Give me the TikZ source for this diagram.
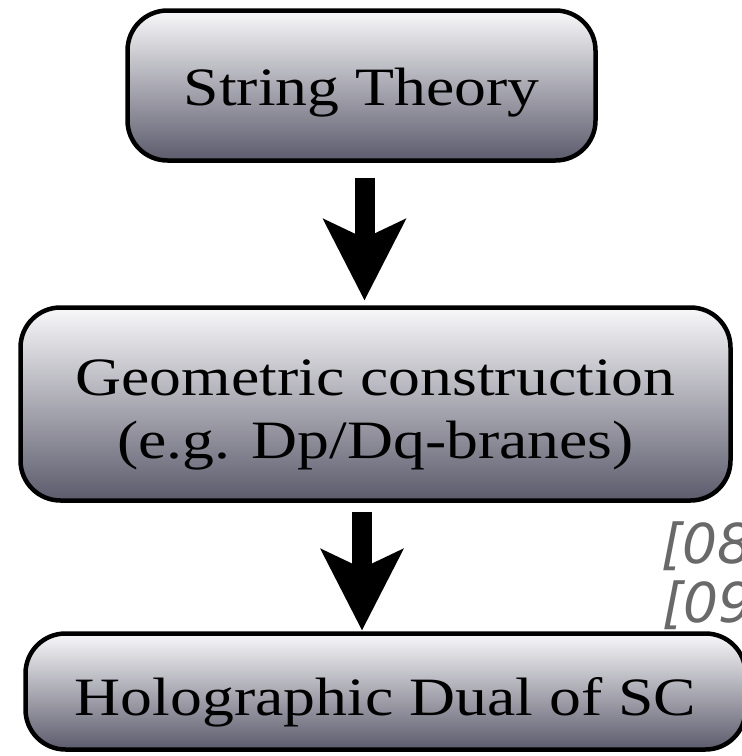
\documentclass[tikz,border=0pt]{standalone}
\usepackage{fontspec}
\setmainfont{Liberation Serif}[FakeStretch=1.18]
\newfontfamily\citefont{DejaVu Sans}
\usetikzlibrary{arrows.meta,calc}
\definecolor{boxtop}{RGB}{248,248,250}
\definecolor{boxbot}{RGB}{92,91,108}
\definecolor{citegray}{RGB}{105,105,105}
\tikzset{
  flowbox/.style={draw=black, line width=4.5pt, rounded corners=40pt,
    top color=boxtop, bottom color=boxbot, inner sep=0pt,
    font=\fontsize{54}{63}\selectfont},
  bigarrow/.style={line width=20pt,
    -{Stealth[length=82pt,width=84pt,inset=20pt,line width=0pt]}},
  citetext/.style={font=\citefont\itshape\fontsize{55}{59}\selectfont,
    text=citegray, inner sep=0pt, anchor=base west}
}
\begin{document}
\begin{tikzpicture}[x=1pt,y=-1pt]
  \clip (0,0) rectangle (742,756);
  \fill[white] (0,0) rectangle (742,756);
  \node[flowbox, minimum width=468pt, minimum height=150pt,
        text height=39pt, text depth=0pt] (st) at (361.5,85.5) {String Theory};
  \node[flowbox, minimum width=710pt, minimum height=193pt,
        text height=44pt, text depth=62pt] (geo) at (375.5,404)
        {\renewcommand{\arraystretch}{1}\begin{tabular}[t]{@{}c@{}}Geometric construction\\(e.g. Dp/Dq-branes)\end{tabular}};
  \node[flowbox, minimum width=720pt, minimum height=116pt,
        text height=47pt, text depth=0pt] (hol) at (385.5,691.5) {Holographic Dual of SC};
  \draw[bigarrow] ($(st.south)+(3,15)$) -- ($(st.south |- geo.north)+(3,-5)$);
  \draw[bigarrow] ($(geo.south)+(-13.5,9)$) -- ($(geo.south |- hol.north)+(-13.5,-1)$);
  \node[citetext] (c1) at (661,563) {[08};
  \node[citetext] (c2) at (662,622) {[09};
\end{tikzpicture}
\end{document}
